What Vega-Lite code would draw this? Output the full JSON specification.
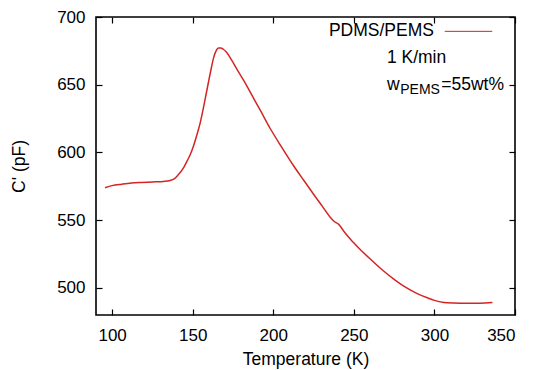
{
  "$schema": "https://vega.github.io/schema/vega-lite/v6.json",
  "autosize": {"type": "none"},
  "width": 419,
  "height": 298,
  "padding": {"left": 96, "top": 17, "right": 18, "bottom": 55},
  "background": "white",
  "config": {
    "font": "Liberation Sans",
    "view": {"stroke": "black", "strokeWidth": 1.6},
    "axis": {
      "domain": false,
      "grid": false,
      "ticks": true,
      "tickColor": "black",
      "tickWidth": 1.2,
      "tickSize": -6,
      "labelFont": "Liberation Sans",
      "labelFontSize": 17,
      "labelColor": "black",
      "titleFont": "Liberation Sans",
      "titleFontSize": 17.5,
      "titleFontWeight": "normal",
      "titleColor": "black"
    }
  },
  "datasets": {
    "curve": [
      {"T": 95.6, "C": 574.0}, {"T": 100, "C": 575.5}, {"T": 106, "C": 576.6}, {"T": 112, "C": 577.5},
      {"T": 118, "C": 577.9}, {"T": 125, "C": 578.2}, {"T": 132, "C": 578.6}, {"T": 136, "C": 579.3},
      {"T": 138.5, "C": 580.5}, {"T": 141, "C": 583.5}, {"T": 144, "C": 588.0}, {"T": 146.5, "C": 593.6},
      {"T": 148.5, "C": 598.5}, {"T": 150.5, "C": 604.8}, {"T": 152.5, "C": 612.5}, {"T": 154.7, "C": 622.0},
      {"T": 156.5, "C": 632.0}, {"T": 158, "C": 641.0}, {"T": 159.8, "C": 652.0}, {"T": 161.5, "C": 662.0},
      {"T": 163, "C": 670.0}, {"T": 164.5, "C": 675.0}, {"T": 166, "C": 677.2}, {"T": 167.5, "C": 677.2},
      {"T": 169, "C": 676.2}, {"T": 171, "C": 674.0}, {"T": 174, "C": 668.5}, {"T": 177.4, "C": 661.5},
      {"T": 181, "C": 654.5}, {"T": 184, "C": 648.3}, {"T": 187.8, "C": 640.0}, {"T": 192, "C": 631.0},
      {"T": 198.2, "C": 617.5}, {"T": 205, "C": 604.3}, {"T": 212.7, "C": 590.0}, {"T": 219, "C": 579.3},
      {"T": 225.1, "C": 569.0}, {"T": 230.5, "C": 560.2}, {"T": 235.5, "C": 551.9}, {"T": 237.5, "C": 549.4},
      {"T": 240.6, "C": 546.9}, {"T": 244, "C": 541.5}, {"T": 247.9, "C": 535.9}, {"T": 253, "C": 529.5},
      {"T": 260, "C": 521.5}, {"T": 267, "C": 514.0},
      {"T": 274.8, "C": 506.5}, {"T": 282, "C": 500.5}, {"T": 289, "C": 496.0}, {"T": 295.6, "C": 492.7},
      {"T": 300, "C": 490.8}, {"T": 305.9, "C": 489.3}, {"T": 312, "C": 488.8}, {"T": 320, "C": 488.6},
      {"T": 328, "C": 488.7}, {"T": 336, "C": 489.2}
    ],
    "legendLine": [
      {"T": 306.4, "C": 689.4}, {"T": 335.9, "C": 689.4}
    ],
    "legendName": [{"T": 299.7, "C": 689.4, "label": "PDMS/PEMS"}],
    "mainText": [
      {"T": 270.5, "C": 669.8, "label": "1 K/min"},
      {"T": 270.5, "C": 650.1, "label": "w"},
      {"T": 304.2, "C": 650.1, "label": "=55wt%"}
    ],
    "subText": [{"T": 278.8, "C": 646.2, "label": "PEMS"}]
  },
  "resolve": {"axis": {"x": "independent", "y": "independent"}},
  "layer": [
    {
      "data": {"name": "curve"},
      "mark": {"type": "line", "color": "#d42424", "strokeWidth": 1.5, "interpolate": "monotone"},
      "encoding": {
        "x": {"field": "T", "type": "quantitative",
              "scale": {"domain": [90, 350], "nice": false, "zero": false},
              "axis": {"title": "Temperature (K)", "values": [100, 150, 200, 250, 300, 350], "labelPadding": 18, "titlePadding": 7}},
        "y": {"field": "C", "type": "quantitative",
              "scale": {"domain": [480, 700], "nice": false, "zero": false},
              "axis": {"title": "C' (pF)", "values": [500, 550, 600, 650, 700], "labelPadding": 17, "titlePadding": 28}}
      }
    },
    {
      "data": {"name": "legendLine"},
      "mark": {"type": "line", "color": "#d42424", "strokeWidth": 1},
      "encoding": {
        "x": {"field": "T", "type": "quantitative",
              "axis": {"orient": "top", "labels": false, "title": null, "values": [100, 150, 200, 250, 300, 350]}},
        "y": {"field": "C", "type": "quantitative",
              "axis": {"orient": "right", "labels": false, "title": null, "values": [500, 550, 600, 650, 700]}}
      }
    },
    {
      "data": {"name": "legendName"},
      "mark": {"type": "text", "align": "right", "baseline": "middle", "fontSize": 17.5, "font": "Liberation Sans", "color": "black"},
      "encoding": {
        "x": {"field": "T", "type": "quantitative", "axis": null},
        "y": {"field": "C", "type": "quantitative", "axis": null},
        "text": {"field": "label"}
      }
    },
    {
      "data": {"name": "mainText"},
      "mark": {"type": "text", "align": "left", "baseline": "middle", "fontSize": 17.5, "font": "Liberation Sans", "color": "black"},
      "encoding": {
        "x": {"field": "T", "type": "quantitative", "axis": null},
        "y": {"field": "C", "type": "quantitative", "axis": null},
        "text": {"field": "label"}
      }
    },
    {
      "data": {"name": "subText"},
      "mark": {"type": "text", "align": "left", "baseline": "middle", "fontSize": 14, "font": "Liberation Sans", "color": "black"},
      "encoding": {
        "x": {"field": "T", "type": "quantitative", "axis": null},
        "y": {"field": "C", "type": "quantitative", "axis": null},
        "text": {"field": "label"}
      }
    }
  ]
}
